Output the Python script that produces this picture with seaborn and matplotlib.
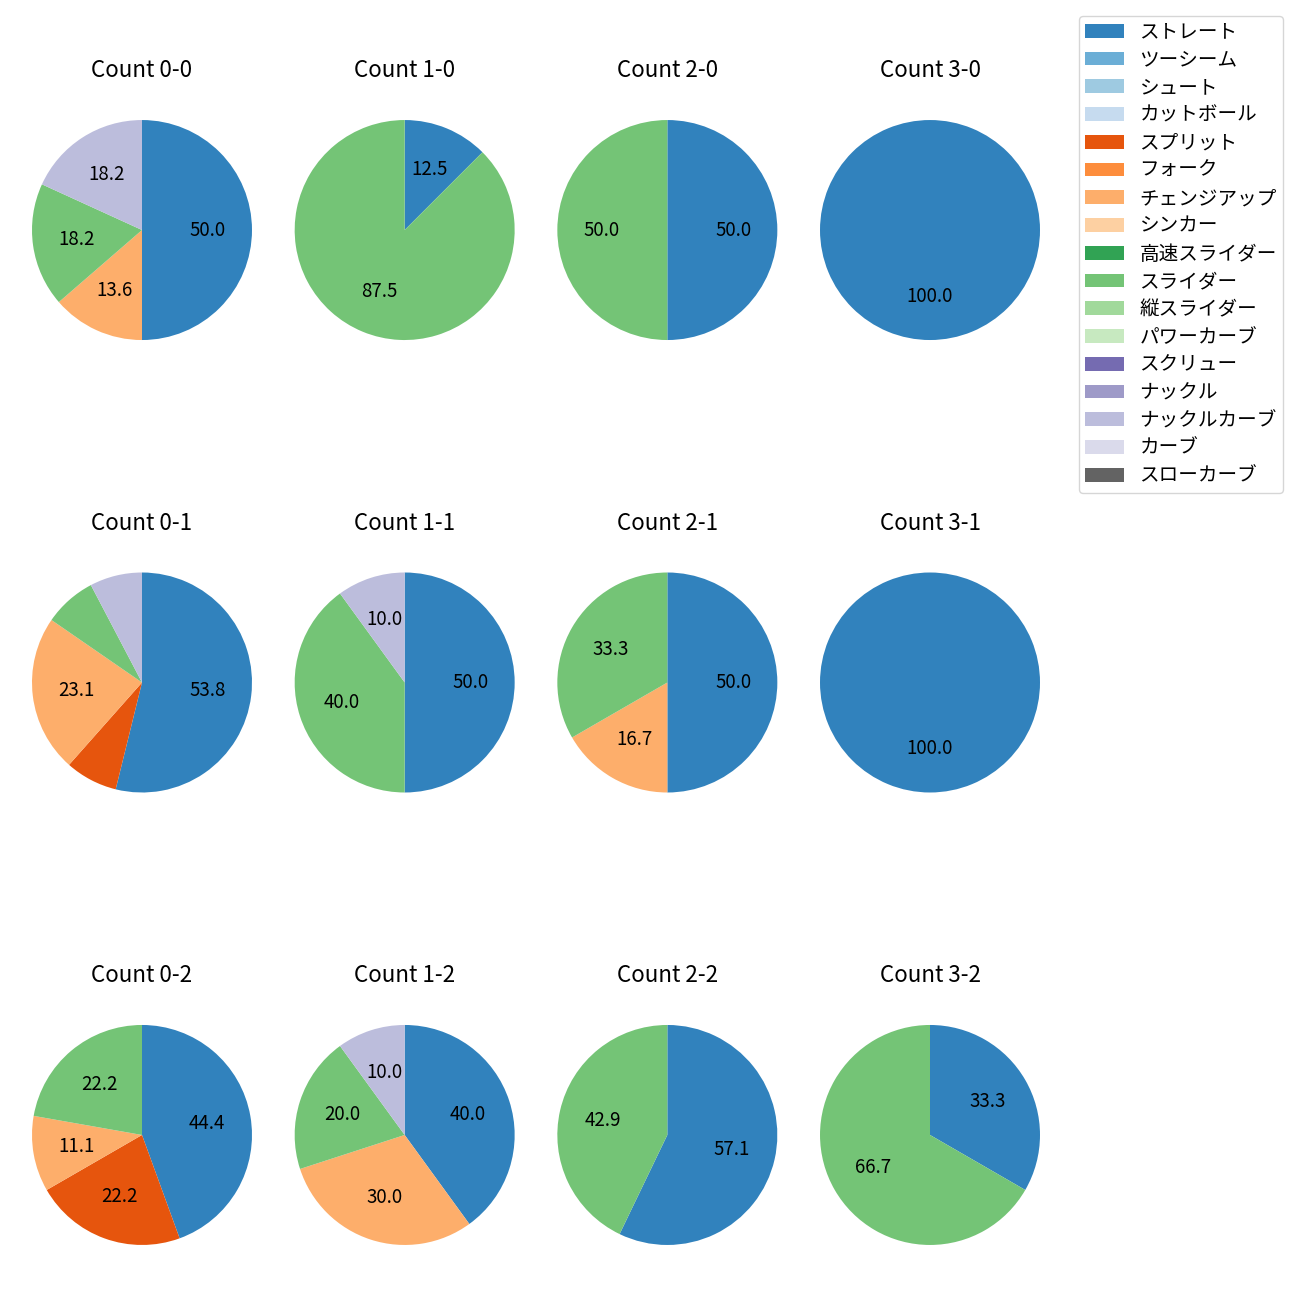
import matplotlib
matplotlib.use("Agg")
import matplotlib.pyplot as plt
from matplotlib.patches import Patch
import seaborn as sns

pitch_types = ["ストレート", "ツーシーム", "シュート", "カットボール", "スプリット", "フォーク",
               "チェンジアップ", "シンカー", "高速スライダー", "スライダー", "縦スライダー",
               "パワーカーブ", "スクリュー", "ナックル", "ナックルカーブ", "カーブ", "スローカーブ"]

# pitch counts per ball-strike count, in the order of pitch_types
count_0_0 = [11, 0, 0, 0, 0, 0, 3, 0, 0, 4, 0, 0, 0, 0, 4, 0, 0]
count_1_0 = [1, 0, 0, 0, 0, 0, 0, 0, 0, 7, 0, 0, 0, 0, 0, 0, 0]
count_2_0 = [1, 0, 0, 0, 0, 0, 0, 0, 0, 1, 0, 0, 0, 0, 0, 0, 0]
count_3_0 = [1, 0, 0, 0, 0, 0, 0, 0, 0, 0, 0, 0, 0, 0, 0, 0, 0]
count_0_1 = [7, 0, 0, 0, 1, 0, 3, 0, 0, 1, 0, 0, 0, 0, 1, 0, 0]
count_1_1 = [5, 0, 0, 0, 0, 0, 0, 0, 0, 4, 0, 0, 0, 0, 1, 0, 0]
count_2_1 = [3, 0, 0, 0, 0, 0, 1, 0, 0, 2, 0, 0, 0, 0, 0, 0, 0]
count_3_1 = [1, 0, 0, 0, 0, 0, 0, 0, 0, 0, 0, 0, 0, 0, 0, 0, 0]
count_0_2 = [4, 0, 0, 0, 2, 0, 1, 0, 0, 2, 0, 0, 0, 0, 0, 0, 0]
count_1_2 = [4, 0, 0, 0, 0, 0, 3, 0, 0, 2, 0, 0, 0, 0, 1, 0, 0]
count_2_2 = [4, 0, 0, 0, 0, 0, 0, 0, 0, 3, 0, 0, 0, 0, 0, 0, 0]
count_3_2 = [1, 0, 0, 0, 0, 0, 0, 0, 0, 2, 0, 0, 0, 0, 0, 0, 0]

count_titles = [["Count 0-0", "Count 1-0", "Count 2-0", "Count 3-0"],
                ["Count 0-1", "Count 1-1", "Count 2-1", "Count 3-1"],
                ["Count 0-2", "Count 1-2", "Count 2-2", "Count 3-2"]]
count_values = [[count_0_0, count_1_0, count_2_0, count_3_0],
                [count_0_1, count_1_1, count_2_1, count_3_1],
                [count_0_2, count_1_2, count_2_2, count_3_2]]

plt.rcParams['font.family'] = ['Noto Sans CJK JP', 'DejaVu Sans']
plt.rcParams['font.size'] = 13.45

colors = sns.color_palette("tab20c", len(pitch_types))

fig, axes = plt.subplots(3, 4, figsize=(13, 13), dpi=100)
fig.subplots_adjust(left=4.5 / 1300, right=1067.5 / 1300,
                    top=1 - 92.5 / 1300, bottom=1 - 1272.5 / 1300,
                    wspace=-0.0448, hspace=0.645)


def fmt(p):
    return f"{p:.1f}" if p > 9.5 else ""


for r in range(3):
    for c in range(4):
        ax = axes[r][c]
        vals = count_values[r][c]
        idx = [i for i, v in enumerate(vals) if v > 0]
        ax.pie([vals[i] for i in idx], colors=[colors[i] for i in idx],
               startangle=90, counterclock=False, autopct=fmt)
        ax.set_title(count_titles[r][c], pad=11)

handles = [Patch(facecolor=colors[i], label=pitch_types[i]) for i in range(len(pitch_types))]
fig.legend(handles=handles, loc='upper right', fontsize=14.1, labelspacing=0.345,
           borderpad=0.3,
           bbox_to_anchor=(1282.7 / 1300, 1 - 15.7 / 1300), borderaxespad=0)

fig.savefig("out.png", dpi=100)
